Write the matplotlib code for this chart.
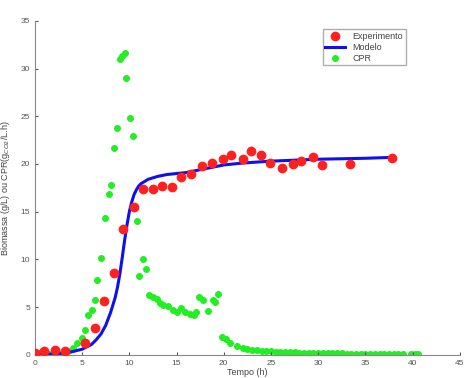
import matplotlib
matplotlib.use('Agg')
import matplotlib.pyplot as plt

# 实验数据 (Experimento)
t_exp = [0, 1.0, 2.1, 3.2, 5.3, 6.4, 7.3, 8.4, 9.35, 10.5, 11.5, 12.5, 13.5, 14.5,
         15.5, 16.5, 17.7, 18.8, 19.9, 20.8, 22.0, 22.9, 23.9, 24.9, 26.2, 27.3,
         28.2, 29.4, 30.4, 33.4, 37.8]
v_exp = [0.2, 0.4, 0.5, 0.4, 1.2, 2.8, 5.7, 8.6, 13.2, 15.5, 17.4, 17.4, 17.7, 17.6,
         18.6, 19.0, 19.8, 20.1, 20.5, 20.9, 20.5, 21.4, 20.9, 20.1, 19.6, 20.0,
         20.3, 20.7, 19.9, 20.0, 20.6]

# 模型曲线 (Modelo)
t_mod = [0, 2, 3, 4, 5, 5.5, 6, 6.5, 7, 7.5, 8, 8.5, 8.75, 9, 9.25, 9.5, 9.75, 10,
         10.25, 10.5, 10.75, 11, 11.25, 11.5, 12, 13, 14, 16, 18, 20, 22, 25, 30,
         35, 38]
v_mod = [0.05, 0.1, 0.2, 0.35, 0.6, 0.85, 1.1, 1.6, 2.2, 3.1, 4.4, 6.0, 7.1, 8.5,
         10.2, 12.0, 13.6, 15.0, 16.0, 16.8, 17.3, 17.7, 17.95, 18.1, 18.4, 18.7,
         18.9, 19.1, 19.5, 19.9, 20.1, 20.3, 20.5, 20.6, 20.7]

# CPR
t_cpr = [0, 0.5, 1.0, 1.5, 2.0, 2.5, 3.0, 3.5, 4.0, 4.5, 4.95, 5.3, 5.65, 6.0, 6.35,
         6.6, 7.0, 7.4, 7.8, 8.05, 8.4, 8.7, 9.0, 9.2, 9.5, 9.7, 10.1, 10.4, 10.8,
         11.05, 11.4, 11.75, 12.1, 12.5, 12.9, 13.2, 13.6, 14.1, 14.65, 15.0, 15.5,
         15.85, 16.4, 16.8, 17.1, 17.4, 17.8, 18.35, 18.9, 19.1, 19.4, 19.8, 20.2,
         20.7, 21.4, 22.0, 22.5, 23.0, 23.5, 24.0, 24.5, 25.0, 25.5, 26.0, 26.5,
         27.0, 27.5, 28.0, 28.5, 29.0, 29.5, 30.0, 30.5, 31.0, 31.5, 32.0, 32.5,
         33.0, 33.5, 34.0, 34.5, 35.0, 35.5, 36.0, 36.5, 37.0, 37.5, 38.0, 38.5,
         39.0, 39.8, 40.2, 40.6]
v_cpr = [0.15, 0.2, 0.15, 0.1, 0.1, 0.15, 0.2, 0.4, 0.7, 1.2, 1.8, 2.6, 4.2, 4.7, 5.8,
         7.9, 10.2, 14.3, 16.9, 17.8, 21.7, 23.8, 31.0, 31.3, 31.6, 29.0, 24.8, 22.9,
         14.0, 8.3, 10.1, 9.0, 6.3, 6.1, 5.9, 5.4, 5.2, 5.1, 4.7, 4.5, 4.9, 4.5, 4.3,
         4.2, 4.5, 6.1, 5.8, 4.6, 5.8, 5.5, 6.4, 1.9, 1.7, 1.2, 0.9, 0.7, 0.6, 0.55,
         0.5, 0.45, 0.4, 0.4, 0.35, 0.35, 0.3, 0.3, 0.3, 0.25, 0.25, 0.25, 0.2, 0.2,
         0.2, 0.2, 0.2, 0.18, 0.18, 0.15, 0.15, 0.15, 0.15, 0.12, 0.12, 0.12, 0.12,
         0.1, 0.1, 0.1, 0.1, 0.1, 0.1, 0.1, 0.1]

plt.rcParams['font.family'] = ['Liberation Sans', 'DejaVu Sans']

fig = plt.figure(figsize=(4.65, 3.78), dpi=100)
ax = fig.add_axes([0.075, 0.061, 0.914, 0.884])

ax.plot(t_exp, v_exp, 'o', color='#ff2020', markersize=6, label='Experimento', zorder=3)
ax.plot(t_mod, v_mod, '-', color='#1010ee', linewidth=2.2, label='Modelo', zorder=2)
ax.plot(t_cpr, v_cpr, 'o', color='#22ee22', markersize=4, label='CPR', zorder=1)

ax.set_xlim(0, 45)
ax.set_ylim(0, 35)
ax.set_xticks(range(0, 46, 5))
ax.set_yticks(range(0, 36, 5))
ax.tick_params(labelsize=6, colors='#555555', direction='in', length=2)
for s in ['top', 'right']:
    ax.spines[s].set_visible(False)
for s in ['left', 'bottom']:
    ax.spines[s].set_color('#888888')

ax.set_xlabel('Tempo (h)', fontsize=6.5, color='#444444', labelpad=1)
ax.set_ylabel('Biomassa (g/L) ou CPR(g$_{CO2}$/L.h)', fontsize=6.5, color='#444444', labelpad=6)

leg = ax.legend(loc='upper left', bbox_to_anchor=(0.684, 0.934), bbox_transform=fig.transFigure,
                fontsize=6.5, frameon=True, fancybox=False, edgecolor='#999999',
                borderpad=0.3, handlelength=2.2, labelspacing=0.2)
for txt in leg.get_texts():
    txt.set_color('#444444')

fig.savefig('out.png', dpi=100)
